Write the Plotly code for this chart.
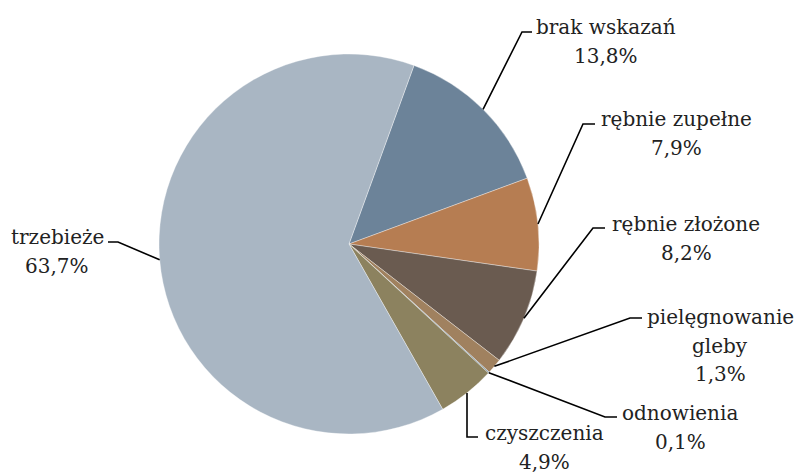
import math
import plotly.graph_objects as go

# ---- data ----
categories = ["brak wskazań", "rębnie zupełne", "rębnie złożone", "pielęgnowanie gleby",
              "odnowienia", "czyszczenia", "trzebieże"]
label_lines = [["brak wskazań"], ["rębnie zupełne"], ["rębnie złożone"], ["pielęgnowanie", "gleby"],
               ["odnowienia"], ["czyszczenia"], ["trzebieże"]]
values = [13.8, 7.9, 8.2, 1.3, 0.1, 4.9, 63.7]
pct_labels = ["13,8%", "7,9%", "8,2%", "1,3%", "0,1%", "4,9%", "63,7%"]

# ---- styling / layout ----
colors = ["#6C8399", "#B67D52", "#6A5B50", "#A0815F", "#7C95A8", "#8C825F", "#A9B6C3"]
W, H = 795, 473
CX, CY, R = 349, 244, 190
ROT = 20
# label x centre and first-line y centre (px), line step
label_pos = [(606, 27), (676, 119), (686, 224), (720, 317), (680, 413), (544, 433), (57, 237)]
LINE_STEP = 28.5
elbows = [(522, 32), (583, 124), (593, 228), (630, 318), (605, 417), (467, 437), (118, 242)]
ends = [(532, 32), (595, 124), (605, 228), (642, 318), (617, 417), (478, 437), (108, 242)]

FONT = "DejaVu Serif"
FSIZE = 20


def px(x):
    return x / W


def py(y):
    return 1 - y / H


fig = go.Figure(go.Pie(
    labels=categories, values=values, sort=False, direction="clockwise",
    rotation=ROT, textinfo="none", hoverinfo="label+percent",
    marker=dict(colors=colors, line=dict(color="rgba(255,255,255,0.6)", width=0.6)),
    domain=dict(x=[px(CX - R), px(CX + R)], y=[py(CY + R), py(CY - R)]),
    showlegend=False,
))

total = sum(values)
cum = 0.0
shapes, annotations = [], []
for i, v in enumerate(values):
    mid = math.radians(ROT + (cum + v / 2) / total * 360)
    cum += v
    ex, ey = CX + R * math.sin(mid), CY - R * math.cos(mid)
    if i == 5:
        ex = elbows[i][0]
    bx, by = elbows[i]
    qx, qy = ends[i]
    shapes.append(dict(type="path", xref="paper", yref="paper",
                       path=f"M {px(ex)} {py(ey)} L {px(bx)} {py(by)} L {px(qx)} {py(qy)}",
                       line=dict(color="black", width=1.6)))
    lx, ly = label_pos[i]
    for k, line in enumerate(label_lines[i] + [pct_labels[i]]):
        annotations.append(dict(x=px(lx), y=py(ly + k * LINE_STEP), xref="paper", yref="paper",
                                text=line, showarrow=False,
                                xanchor="center", yanchor="middle", align="center",
                                font=dict(family=FONT, size=FSIZE, color="#222222")))

fig.update_layout(width=W, height=H, margin=dict(l=0, r=0, t=0, b=0),
                  paper_bgcolor="white", plot_bgcolor="white",
                  shapes=shapes, annotations=annotations)
fig.write_html("out.html", config={"displayModeBar": False},
               post_script="document.body.style.margin='0';document.body.style.padding='0';")
